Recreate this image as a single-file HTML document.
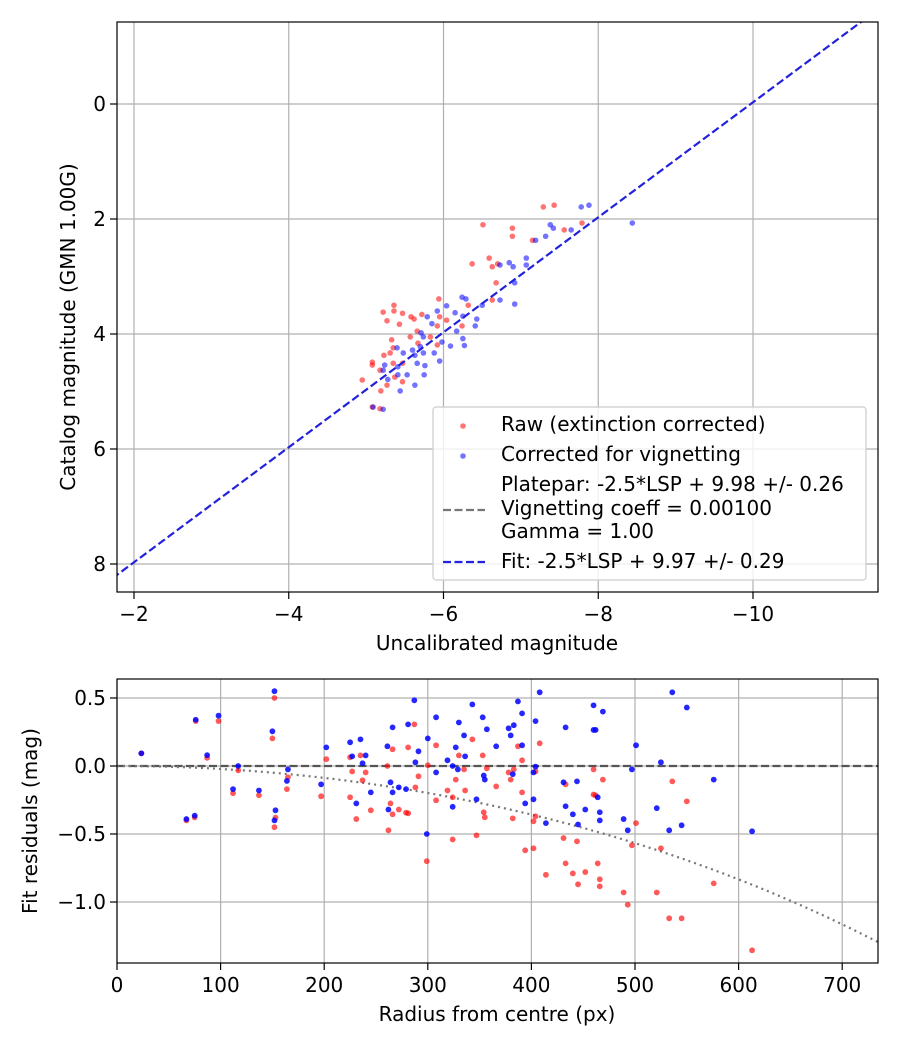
<!DOCTYPE html>
<html><head><meta charset="utf-8"><style>
body{margin:0;background:#fff}
svg{font-family:"DejaVu Sans","Liberation Sans",sans-serif}
</style></head><body>
<svg id="s" width="900" height="1050" xmlns="http://www.w3.org/2000/svg"></svg>
<script>
// Top chart data
const topRawX=[-7.29,-7.43,-6.51,-6.89,-6.89,-7.15,-7.56,-7.79,-6.59,-6.37,-6.63,-6.70,-6.68,-6.63,-5.94,-5.22,-5.36,-5.36,-5.47,-5.27,-5.43,-5.58,-5.72,-5.62,-5.92,-6.24,-6.32,-5.66,-5.57,-5.33,-5.35,-5.23,-5.35,-5.08,-5.08,-5.18,-4.95,-5.27,-5.19,-5.37,-5.47,-5.67,-5.92,-5.83,-5.95,-6.04,-5.31,-5.47,-5.08,-5.18];
const topRawY=[1.79,1.76,2.10,2.16,2.30,2.37,2.19,2.07,2.68,2.78,2.83,2.78,3.11,3.41,3.39,3.62,3.50,3.60,3.64,3.77,3.83,3.70,3.66,3.74,3.86,3.86,3.50,3.95,4.05,4.10,4.24,4.37,4.51,4.49,4.54,4.63,4.80,4.89,4.99,4.75,4.83,4.16,4.19,4.05,3.70,3.76,4.33,4.51,5.27,5.30];
const topCorX=[-7.78,-7.88,-8.44,-7.38,-7.42,-7.32,-7.19,-7.65,-7.07,-7.07,-6.85,-6.90,-6.73,-6.92,-6.73,-6.92,-6.50,-6.24,-6.29,-6.25,-6.43,-6.41,-6.15,-6.04,-5.92,-5.79,-5.85,-6.17,-6.25,-6.27,-6.09,-5.98,-5.95,-5.88,-5.74,-5.70,-5.60,-5.48,-5.63,-5.74,-5.40,-5.24,-5.41,-5.66,-5.76,-5.53,-5.41,-5.75,-5.22,-5.28,-5.44,-5.63,-5.09,-5.22,-5.71];
const topCorY=[1.79,1.76,2.07,2.10,2.16,2.30,2.37,2.19,2.68,2.80,2.76,2.83,2.80,3.11,3.41,3.48,3.50,3.36,3.39,3.69,3.74,3.86,3.63,3.51,3.60,3.70,3.82,3.95,4.08,4.20,4.21,4.14,4.47,4.33,4.05,4.22,4.28,4.33,4.37,4.33,4.24,4.54,4.57,4.51,4.55,4.71,4.71,4.71,4.63,4.79,4.99,4.89,5.27,5.31,3.98];
const fitIntercept=9.97;
const topXTicks=[-2,-4,-6,-8,-10];
const topYTicks=[0,2,4,6,8];
// Bottom chart data
const botRawR=[23.5,76,98,87,67,75,117,112,137,152,150,153,152,165,164,202,197,225,235,227,240,237,225,231,245,266,261,264,266,262,272,287,281,279,281,291,288,300,299,308,308,330,319,324,327,335,336,343,353,357,324,347,354,355,366,387,408,391,378,383,380,404,391,382,402,404,394,402,414,433,431,433,440,444,445,452,460,460,462,469,464,466,466,489,493,497,501,525,521,533,545,536,550,576,613];
const botRawRes=[0.093,0.33,0.33,0.06,-0.40,-0.378,-0.032,-0.20,-0.215,0.50,0.203,-0.38,-0.45,-0.083,-0.17,0.05,-0.223,0.064,0.078,-0.04,-0.047,-0.105,-0.23,-0.39,-0.326,0.123,0,-0.275,-0.355,-0.473,-0.32,0.306,0.137,-0.343,-0.348,-0.076,-0.157,0.005,-0.70,0.152,-0.252,0.078,-0.18,-0.23,-0.1,-0.025,-0.18,0.196,0.078,-0.017,-0.54,-0.51,-0.34,-0.377,-0.15,0.145,0.167,0.042,-0.047,-0.025,-0.1,-0.04,-0.194,-0.385,-0.407,-0.37,-0.62,-0.605,-0.80,-0.135,-0.53,-0.716,-0.79,-0.554,-0.87,-0.78,-0.025,-0.21,-0.216,-0.1,-0.716,-0.833,-0.885,-0.93,-1.02,-0.583,-0.42,-0.605,-0.93,-1.12,-1.12,-0.113,-0.26,-0.863,-1.355];
const botCorR=[23.5,76,98,87,67,75,117,112,137,152,150,153,152,165,164,202,197,225,227,235,240,237,231,245,261,266,264,266,262,272,281,287,279,291,288,300,299,308,308,327,330,319,324,329,336,335,343,353,357,324,347,354,355,366,387,391,378,383,380,391,408,404,404,402,382,402,394,414,433,431,444,433,440,452,445,460,469,460,462,464,466,466,489,493,501,497,525,521,533,545,536,550,576,613];
const botCorRes=[0.093,0.34,0.37,0.08,-0.39,-0.365,0,-0.17,-0.18,0.55,0.255,-0.326,-0.40,-0.025,-0.11,0.137,-0.135,0.174,0.071,0.196,0.078,0.02,-0.275,-0.194,0.145,0.284,-0.12,-0.194,-0.32,-0.157,0.306,0.483,-0.17,0.108,0.027,0.203,-0.50,0.358,-0.047,0.137,0.32,0.042,0,-0.025,0.071,0.225,0.453,0.358,0.27,-0.30,-0.245,-0.07,-0.1,0.145,0.475,0.387,0.277,0.30,0.225,0.152,0.542,0.33,-0.005,-0.047,-0.06,-0.245,-0.275,-0.42,0.284,-0.12,-0.113,-0.296,-0.355,-0.32,-0.43,0.446,0.40,0.265,0.265,-0.23,-0.34,-0.40,-0.39,-0.473,0.152,-0.025,0.027,-0.31,-0.473,-0.436,0.542,0.43,-0.1,-0.48];
const vignCoeff=0.001;
const botXTicks=[0,100,200,300,400,500,600,700];
const botYTicks=[0.5,0.0,-0.5,-1.0];
const botYLabels=["0.5","0.0","\u22120.5","\u22121.0"];

const NS="http://www.w3.org/2000/svg";
const svg=document.getElementById('s');
function mk(tag,attrs,parent,text){const e=document.createElementNS(NS,tag);for(const k in attrs)e.setAttribute(k,attrs[k]);if(text!==undefined)e.textContent=text;(parent||svg).appendChild(e);return e;}
const minus=v=>String(v).replace('-','\u2212');
const FS=20;

// TOP axes
const T={l:117,r:878,t:22,b:592};
const tx=v=>134+(-2-v)*77.375;
const ty=v=>104+v*57.5;
const gTop=mk('g',{});


topXTicks.forEach(v=>{const x=tx(v);mk('line',{x1:x,x2:x,y1:T.t,y2:T.b,stroke:'#b0b0b0','stroke-width':1.2},gTop);
 mk('line',{x1:x,x2:x,y1:T.b,y2:T.b+7,stroke:'#000','stroke-width':1.2},gTop);
 const t=mk('text',{x:x,y:T.b+29,'text-anchor':'middle','font-size':FS},gTop,minus(v));});
topYTicks.forEach(v=>{const y=ty(v);mk('line',{x1:T.l,x2:T.r,y1:y,y2:y,stroke:'#b0b0b0','stroke-width':1.2},gTop);
 mk('line',{x1:T.l-7,x2:T.l,y1:y,y2:y,stroke:'#000','stroke-width':1.2},gTop);
 const t=mk('text',{x:T.l-11,y:y+7,'text-anchor':'end','font-size':FS},gTop,minus(v));});
const clipT=mk('clipPath',{id:'ct'});mk('rect',{x:T.l,y:T.t,width:T.r-T.l,height:T.b-T.t},clipT);
const pT=mk('g',{'clip-path':'url(#ct)'},gTop);
topRawX.forEach((v,i)=>{const c=mk('circle',{cx:tx(v),cy:ty(topRawY[i]),r:2.8,fill:'red','fill-opacity':0.55},pT);});
topCorX.forEach((v,i)=>{const c=mk('circle',{cx:tx(v),cy:ty(topCorY[i]),r:2.8,fill:'blue','fill-opacity':0.55},pT);});
const x0=-1.6,x1=-12;
const fl=mk('line',{x1:tx(x0),y1:ty(x0+fitIntercept),x2:tx(x1),y2:ty(x1+fitIntercept),stroke:'#2222dd','stroke-width':2.2,'stroke-dasharray':'8,3.5'},pT);

mk('rect',{x:T.l,y:T.t,width:T.r-T.l,height:T.b-T.t,fill:'none',stroke:'#000','stroke-width':1.2},gTop);
mk('text',{x:497,y:650,'text-anchor':'middle','font-size':FS},gTop,'Uncalibrated magnitude');
mk('text',{x:0,y:0,'text-anchor':'middle','font-size':FS,transform:'translate(75,327) rotate(-90)'},gTop,'Catalog magnitude (GMN 1.00G)');

// legend
const lg=mk('g',{});


mk('rect',{x:433,y:407,width:433,height:173,rx:3,fill:'#fff','fill-opacity':0.8,stroke:'#ccc','stroke-width':1.2},lg);
mk('circle',{cx:463,cy:426,r:2.8,fill:'red','fill-opacity':0.55},lg);
mk('text',{x:501,y:431,'font-size':FS},lg,'Raw (extinction corrected)');
mk('circle',{cx:463,cy:456,r:2.8,fill:'blue','fill-opacity':0.55},lg);
mk('text',{x:501,y:461,'font-size':FS},lg,'Corrected for vignetting');
mk('line',{x1:443,x2:485,y1:510,y2:510,stroke:'#777','stroke-width':2.2,'stroke-dasharray':'8,3.5'},lg);
mk('text',{x:501,y:491,'font-size':FS},lg,'Platepar: -2.5*LSP + 9.98 +/- 0.26');
mk('text',{x:501,y:515,'font-size':FS},lg,'Vignetting coeff = 0.00100');
mk('text',{x:501,y:538,'font-size':FS},lg,'Gamma = 1.00');
mk('line',{x1:443,x2:485,y1:562,y2:562,stroke:'#2222dd','stroke-width':2.2,'stroke-dasharray':'8,3.5'},lg);
mk('text',{x:501,y:568,'font-size':FS},lg,'Fit: -2.5*LSP + 9.97 +/- 0.29');

// BOTTOM axes
const B={l:117,r:878,t:679,b:963};
const bx=v=>117+v*1.036;
const by=v=>766-v*136;
const gB=mk('g',{});


botXTicks.forEach(v=>{const x=bx(v);mk('line',{x1:x,x2:x,y1:B.t,y2:B.b,stroke:'#b0b0b0','stroke-width':1.2},gB);
 mk('line',{x1:x,x2:x,y1:B.b,y2:B.b+7,stroke:'#000','stroke-width':1.2},gB);
 const t=mk('text',{x:x,y:B.b+29,'text-anchor':'middle','font-size':FS},gB,String(v));});
botYTicks.forEach((v,i)=>{const y=by(v);mk('line',{x1:B.l,x2:B.r,y1:y,y2:y,stroke:'#b0b0b0','stroke-width':1.2},gB);
 mk('line',{x1:B.l-7,x2:B.l,y1:y,y2:y,stroke:'#000','stroke-width':1.2},gB);
 const t=mk('text',{x:B.l-11,y:y+7,'text-anchor':'end','font-size':FS},gB,botYLabels[i]);});
const clipB=mk('clipPath',{id:'cb'});mk('rect',{x:B.l,y:B.t,width:B.r-B.l,height:B.b-B.t},clipB);
const pB=mk('g',{'clip-path':'url(#cb)'},gB);
const zl=mk('line',{x1:B.l,x2:B.r,y1:by(0),y2:by(0),stroke:'#555','stroke-width':2.2,'stroke-dasharray':'8,3.5'},pB);

let d='';for(let r=0;r<=740;r+=5){const v=10*Math.log10(Math.cos(r*vignCoeff));d+=(r?'L':'M')+bx(r).toFixed(1)+','+by(v).toFixed(1);}
const vc=mk('path',{d:d,fill:'none',stroke:'#777','stroke-width':2.2,'stroke-dasharray':'2,4'},pB);

botRawR.forEach((v,i)=>{const c=mk('circle',{cx:bx(v),cy:by(botRawRes[i]),r:2.9,fill:'red','fill-opacity':0.65},pB);});
botCorR.forEach((v,i)=>{const c=mk('circle',{cx:bx(v),cy:by(botCorRes[i]),r:2.9,fill:'blue','fill-opacity':0.85},pB);});
mk('rect',{x:B.l,y:B.t,width:B.r-B.l,height:B.b-B.t,fill:'none',stroke:'#000','stroke-width':1.2},gB);
mk('text',{x:497,y:1021,'text-anchor':'middle','font-size':FS},gB,'Radius from centre (px)');
mk('text',{x:0,y:0,'text-anchor':'middle','font-size':FS,transform:'translate(37,821) rotate(-90)'},gB,'Fit residuals (mag)');
</script>
</body></html>
